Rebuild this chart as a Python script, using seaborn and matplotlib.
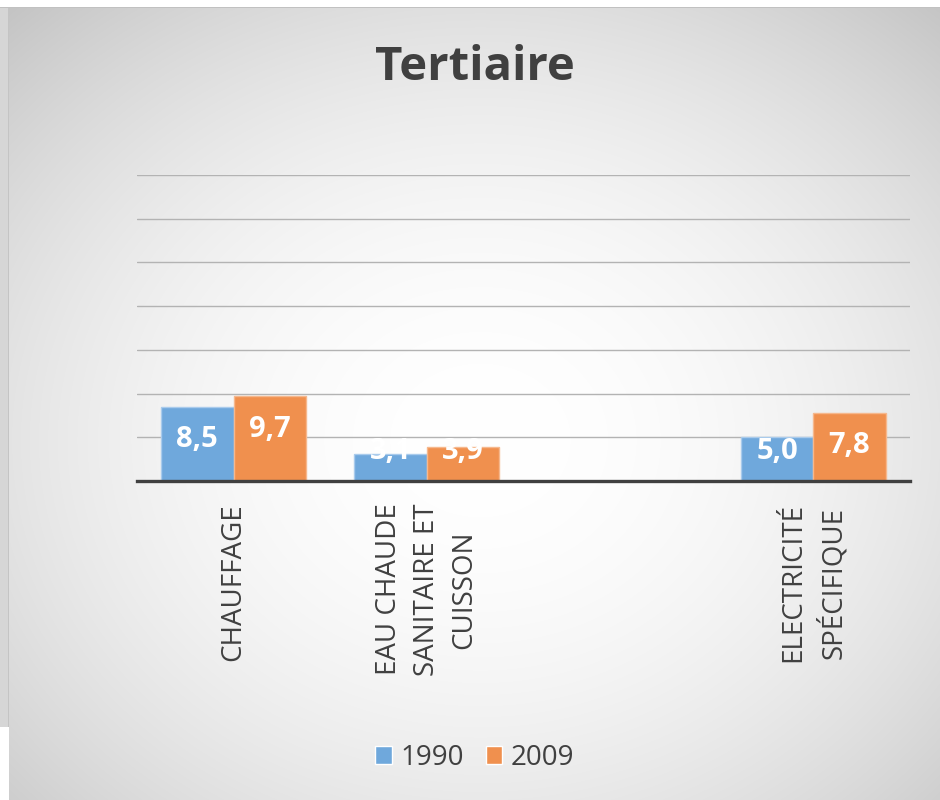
import numpy as np
import pandas as pd
import seaborn as sns
from matplotlib import pyplot as plt

# data
categories = ['CHAUFFAGE', 'EAU CHAUDE\nSANITAIRE ET\nCUISSON', ' ', 'ELECTRICITÉ\nSPÉCIFIQUE']
years = ['1990', '2009']
values_1990 = [8.5, 3.1, np.nan, 5.0]
values_2009 = [9.7, 3.9, np.nan, 7.8]
y_ticks = [0, 5, 10, 15, 20, 25, 30, 35]
title = 'Tertiaire'

colors = {'1990': '#6fa8dc', '2009': '#f0904e'}
edges = {'1990': '#a9cbec', '2009': '#f6b88d'}
text_gray = '#404040'

sns.set_style('white')
plt.rcParams['font.family'] = ['Open Sans', 'DejaVu Sans']

rows = []
for cat, v1, v2 in zip(categories, values_1990, values_2009):
    rows.append((cat, years[0], v1))
    rows.append((cat, years[1], v2))
df = pd.DataFrame(rows, columns=['cat', 'year', 'value']).dropna()

fig = plt.figure(figsize=(9.4, 8), dpi=100)
fig.patch.set_facecolor('white')

# radial grey background like the office chart style
yy, xx = np.mgrid[0:800, 0:940]
d = np.hypot((xx - 480) / 940, (yy - 440) / 800)
shade = 1 - 0.24 * np.clip(d / 0.75, 0, 1.2) ** 2
bg = np.dstack([shade] * 3)
bg[:7, :, :] = 1.0
bg[7, :, :] = 0.76
bg[8:727, :8, :] = 0.84
bg[8:727, 8, :] = 0.77
bg[727:, :9, :] = 1.0
bg_ax = fig.add_axes([0, 0, 1, 1], zorder=-1)
bg_ax.imshow(bg, aspect='auto', interpolation='bilinear')
bg_ax.axis('off')

ax = fig.add_axes([0.1457, 0.39875, 0.8223, 0.3825], zorder=1)
ax.patch.set_alpha(0)

sns.barplot(data=df, x='cat', y='value', hue='year', order=categories,
            hue_order=years, palette=colors, width=0.75, errorbar=None,
            saturation=1, ax=ax, zorder=2)

for bars, yr in zip(ax.containers, years):
    for bar in bars:
        bar.set_edgecolor(edges[yr])
        bar.set_linewidth(1.0)
        h = bar.get_height()
        if np.isnan(h) or h == 0:
            continue
        yc = max(h - 3.78, 3.32)
        ax.text(bar.get_x() + bar.get_width() / 2, yc,
                f'{h:.1f}'.replace('.', ','), ha='center', va='center',
                color='white', fontsize=21, fontweight='bold', zorder=3)

ax.set_ylim(0, 35)
ax.set_xlim(-0.5, len(categories) - 0.5)
ax.set_yticks(y_ticks)
ax.set_yticklabels([])
ax.yaxis.grid(True, color='#b3b3b3', linewidth=1.0)
ax.set_axisbelow(True)
for side in ['top', 'right', 'left']:
    ax.spines[side].set_visible(False)
ax.spines['bottom'].set_color(text_gray)
ax.spines['bottom'].set_linewidth(2.4)
ax.spines['bottom'].set_zorder(4)

ax.set_xticks(range(len(categories)))
ax.set_xticklabels(categories, rotation=90, ha='center', va='top',
                   multialignment='center', linespacing=1.45,
                   fontsize=20, color=text_gray)
ax.tick_params(axis='x', length=0, pad=16)
ax.tick_params(axis='y', length=0)
ax.set_xlabel('')
ax.set_ylabel('')

handles, labels = ax.get_legend_handles_labels()
ax.legend(handles, labels, loc='center', bbox_to_anchor=(0.505, 0.0525),
          bbox_transform=fig.transFigure, ncol=2, frameon=False,
          fontsize=20, labelcolor=text_gray, handlelength=0.6,
          handleheight=0.6, handletextpad=0.3, columnspacing=0.8)

fig.text(0.505, 0.915, title, ha='center', va='center', fontsize=34,
         fontweight='bold', color=text_gray)

fig.savefig('out.png', dpi=100)
